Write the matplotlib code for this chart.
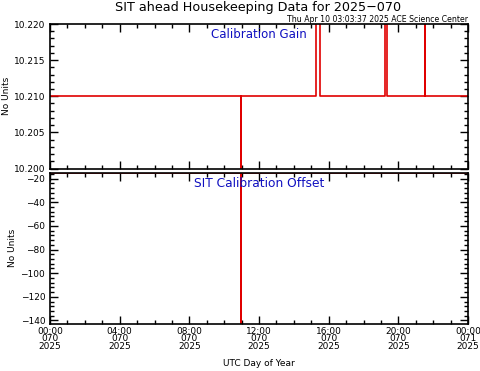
import matplotlib
matplotlib.use('Agg')
import matplotlib.pyplot as plt
from matplotlib.ticker import MultipleLocator, FormatStrFormatter

plt.rcParams['font.family'] = ['DejaVu Sans']

# 数据（小时，UTC）
gain_hours = [0.0, 10.96, 10.96, 10.97, 10.97, 15.29, 15.29, 15.48, 15.48,
              19.24, 19.24, 19.33, 19.33, 21.54, 21.54, 21.55, 21.55, 24.0]
gain_values = [10.210, 10.210, 10.190, 10.190, 10.210, 10.210, 10.230, 10.230, 10.210,
               10.210, 10.230, 10.230, 10.210, 10.210, 10.230, 10.230, 10.210, 10.210]

offset_hours = [0.0, 10.96, 10.96, 10.97, 10.97, 24.0]
offset_values = [-15, -15, -143, -143, -15, -15]

tick_hours = [0, 4, 8, 12, 16, 20, 24]
tick_labels = ['00:00\n070\n2025', '04:00\n070\n2025', '08:00\n070\n2025',
               '12:00\n070\n2025', '16:00\n070\n2025', '20:00\n070\n2025',
               '00:00\n071\n2025']

fig = plt.figure(figsize=(4.81, 3.71), dpi=100)
ax1 = fig.add_axes([0.104, 0.5458, 0.869, 0.3895])
ax2 = fig.add_axes([0.104, 0.1267, 0.869, 0.4078])

for ax in (ax1, ax2):
    ax.set_xlim(0, 24)
    ax.xaxis.set_major_locator(MultipleLocator(4))
    ax.xaxis.set_minor_locator(MultipleLocator(1))
    ax.tick_params(which='both', direction='in', top=True, right=True,
                   labelsize=6.5, width=1, colors='black')
    ax.tick_params(which='major', length=6)
    ax.tick_params(which='minor', length=3)
    ax.tick_params(axis='x', pad=2)
    for s in ax.spines.values():
        s.set_linewidth(1.2)
    ax.set_ylabel('No Units', fontsize=6.5)

ax1.plot(gain_hours, gain_values, color='#e00000', lw=1.2)
ax1.set_ylim(10.200, 10.220)
ax1.yaxis.set_major_locator(MultipleLocator(0.005))
ax1.yaxis.set_minor_locator(MultipleLocator(0.001))
ax1.yaxis.set_major_formatter(FormatStrFormatter('%.3f'))
ax1.set_xticks(tick_hours)
ax1.set_xticklabels([])
ax1.text(0.5, 0.925, 'Calibration Gain', transform=ax1.transAxes, ha='center', va='center',
         color='#1010c0', fontsize=8.5)
ax1.yaxis.set_label_coords(-0.094, 0.5)

ax2.plot(offset_hours, offset_values, color='#e00000', lw=1.2)
ax2.set_ylim(-143, -15)
ax2.yaxis.set_major_locator(MultipleLocator(20))
ax2.yaxis.set_minor_locator(MultipleLocator(4))
ax2.set_xticks(tick_hours)
ax2.set_xticklabels(tick_labels, linespacing=0.8)
ax2.text(0.5, 0.93, 'SIT Calibration Offset', transform=ax2.transAxes, ha='center', va='center',
         color='#1010c0', fontsize=8.8)
ax2.set_xlabel('UTC Day of Year', fontsize=6.5, labelpad=6)
ax2.yaxis.set_label_coords(-0.078, 0.5)

fig.text(0.537, 0.979, 'SIT ahead Housekeeping Data for 2025\u2212070', ha='center', va='center',
         fontsize=9.2)
fig.text(0.973, 0.948, 'Thu Apr 10 03:03:37 2025 ACE Science Center', ha='right', va='center',
         fontsize=5.6)

fig.savefig('out.png', dpi=100, facecolor='white')
